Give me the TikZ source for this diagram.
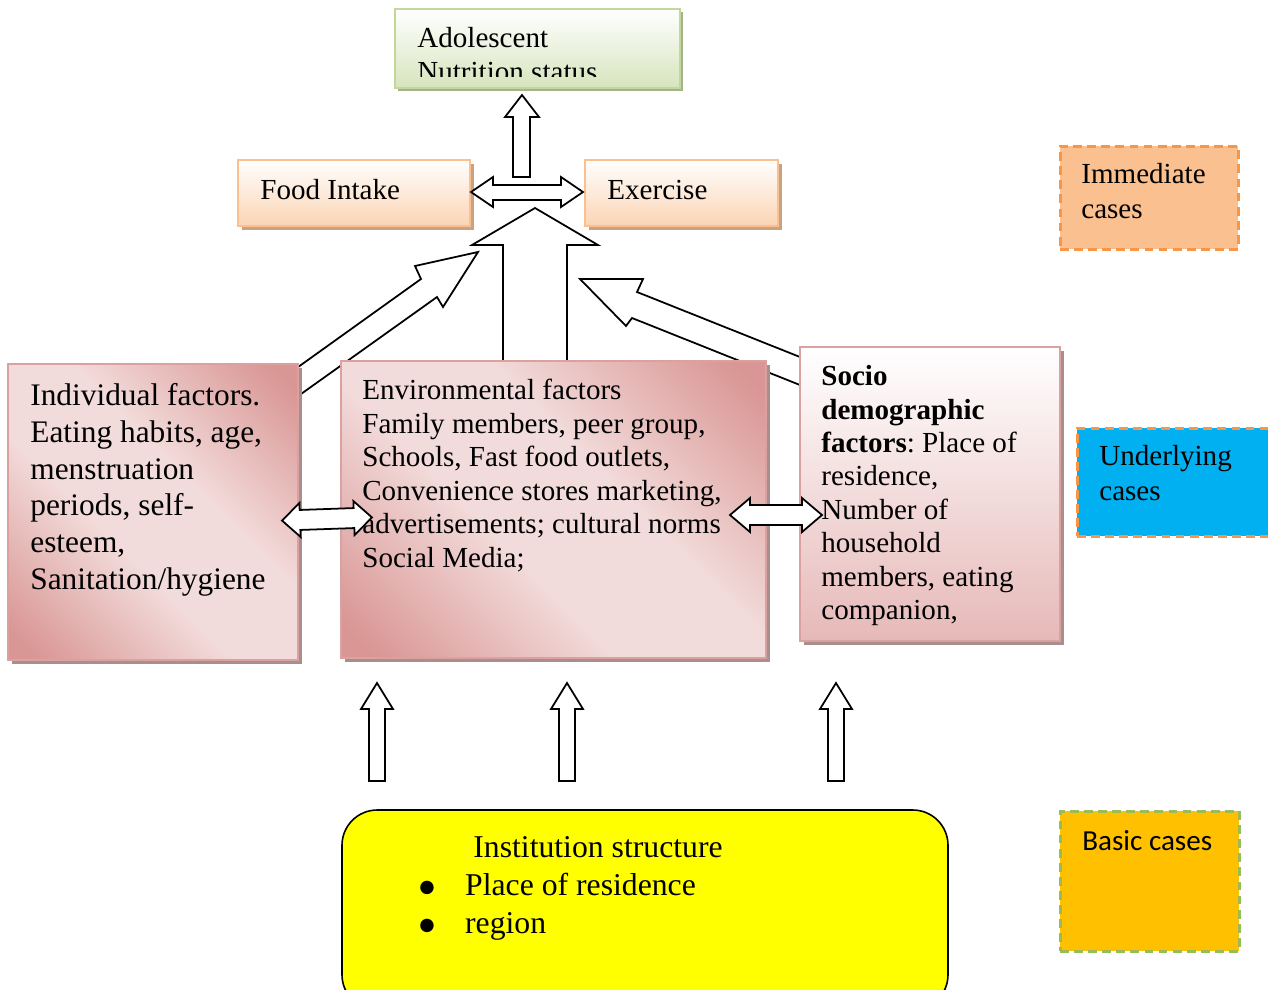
\documentclass[tikz,border=0pt]{standalone}
\usepackage{fontspec}
\setmainfont{Liberation Serif}
\newfontfamily\legendfont{Carlito}
\newfontfamily\symfont{DejaVu Sans}
\usetikzlibrary{fit,shadows}
\frenchspacing

\definecolor{greenedge}{HTML}{C3D69B}
\definecolor{greenfill}{HTML}{D7E4BD}
\definecolor{greenshadow}{HTML}{A3B38D}
\definecolor{peachedge}{HTML}{FAC090}
\definecolor{peachfill}{HTML}{FBD4B4}
\definecolor{peachshadow}{HTML}{C9A27F}
\definecolor{pinkdark}{HTML}{D99694}
\definecolor{pinklight}{HTML}{F2DCDB}
\definecolor{pinkedge}{HTML}{DBA0A0}
\definecolor{pinkshadow}{HTML}{A98E8E}
\definecolor{sociofill}{HTML}{E6B9B8}
\definecolor{orangedash}{HTML}{F79646}
\definecolor{greendash}{HTML}{9BBB59}
\definecolor{immfill}{HTML}{FAC090}
\definecolor{undfill}{HTML}{00B0F0}
\definecolor{basfill}{HTML}{FFC000}
\definecolor{instfill}{HTML}{FFFF00}

\pgfdeclarehorizontalshading{pinkdiag}{100bp}{color(0bp)=(pinkdark); color(18bp)=(pinkdark); color(42bp)=(pinklight); color(58bp)=(pinklight); color(82bp)=(pinkdark); color(100bp)=(pinkdark)}

\newcommand\bigbullet{\raisebox{1.5pt}{\symfont\fontsize{10}{10}\selectfont ●}}

\tikzset{
  fitbox/.style={inner sep=0pt, line width=1.2pt},
  statusbox/.style={fitbox, draw=greenedge, top color=white, bottom color=greenfill,
    drop shadow={shadow xshift=1.7pt, shadow yshift=-1.7pt, fill=greenshadow, opacity=1}},
  peachbox/.style={fitbox, draw=peachedge, top color=white, bottom color=peachfill,
    drop shadow={shadow xshift=2.2pt, shadow yshift=-2.2pt, fill=peachshadow, opacity=1}},
  pinkbox/.style={fitbox, draw=pinkedge, shading=pinkdiag, shading angle=45,
    drop shadow={shadow xshift=2.3pt, shadow yshift=-2.3pt, fill=pinkshadow, opacity=1}},
  sociobox/.style={fitbox, draw=pinkedge, top color=white, bottom color=sociofill,
    drop shadow={shadow xshift=2.3pt, shadow yshift=-2.3pt, fill=pinkshadow, opacity=1}},
  legendbox/.style={inner sep=0pt, line width=1.7pt, dash pattern=on 5pt off 3pt},
  instbox/.style={inner sep=0pt, draw=black, line width=0.9pt, fill=instfill, rounded corners=20pt},
  blockarrow/.style={draw=black, fill=white, line width=1pt, line join=miter},
  txt/.style={inner sep=0pt, align=left, anchor=north west, font=\fontsize{16.5}{19}\selectfont}
}

\begin{document}
\begin{tikzpicture}[x=0.5675pt,y=-0.5675pt]
\useasboundingbox (0,0) rectangle (1268,989);

\draw[blockarrow] (280,380)--(421,279)--(415,266)--(478,252)--(443,307)--(437,297)--(280,409)--cycle;
\draw[blockarrow] (810,361)--(637,292)--(643,279)--(580,279)--(626,326)--(632,318)--(810,389)--cycle;
\draw[blockarrow] (503,370)--(503,245)--(472,245)--(535,208)--(598,245)--(567,245)--(567,370)--cycle;

\node[statusbox, fit={(395,9) (680,88)}] (status) {};
\node[peachbox, fit={(238,160) (470,226)}] (food) {};
\node[peachbox, fit={(585,160) (778,226)}] (exercise) {};
\node[pinkbox, fit={(8,364) (298,660)}] (indiv) {};
\node[pinkbox, fit={(341,361) (766,658)}] (envir) {};
\node[sociobox, fit={(800,347) (1060,641)}] (socio) {};
\node[legendbox, draw=orangedash, fill=immfill, fit={(1060,146) (1238,249)}] (immediate) {};
\node[legendbox, draw=orangedash, fill=undfill, fit={(1077,428) (1295,536)}] (underlying) {};
\node[legendbox, draw=greendash, fill=basfill, fit={(1060,811) (1239,951)}] (basic) {};
\node[instbox, fit={(342,810) (948,1010)}] (inst) {};

\begin{scope}
\clip (status.north west) rectangle (680,76);
\node[txt, font=\fontsize{16.5}{19.3}\selectfont] (statustxt) at (417,27) {Adolescent\\Nutrition status};
\end{scope}
\node[txt, anchor=base west] (foodtxt) at (260,199) {Food Intake};
\node[txt, anchor=base west] (exercisetxt) at (607,199) {Exercise};
\node[txt, font=\fontsize{16.5}{19.9}\selectfont] (immtxt) at (1081,163) {Immediate\\cases};
\node[txt, font=\fontsize{16.5}{19.9}\selectfont] (undtxt) at (1099,445) {Underlying\\cases};
\node[txt, anchor=base west, font=\legendfont\fontsize{16.5}{19}\selectfont] (bastxt) at (1082,850) {Basic cases};
\node[txt, font=\fontsize{17.8}{20.9}\selectfont] (indivtxt) at (30,383) {Individual factors.\\Eating habits, age,\\menstruation\\periods, self-\\esteem,\\Sanitation/hygiene};
\node[txt] (envirtxt) at (362,379) {Environmental factors\\Family members, peer group,\\Schools, Fast food outlets,\\Convenience stores marketing,\\advertisements; cultural norms\\Social Media;};
\node[txt, font=\fontsize{16.5}{19}\selectfont] (sociotxt) at (821,365) {\textbf{Socio}\\\textbf{demographic}\\\textbf{factors}: Place of\\residence,\\Number of\\household\\members, eating\\companion,};
\node[txt, anchor=base west, font=\fontsize{18}{21}\selectfont] (insttxt) at (473,857) {Institution structure};
\node[txt, anchor=base west, font=\fontsize{18}{21}\selectfont] (instone) at (419,895) {\makebox[26pt][l]{\bigbullet}Place of residence};
\node[txt, anchor=base west, font=\fontsize{18}{21}\selectfont] (insttwo) at (419,933) {\makebox[26pt][l]{\bigbullet}region};

\draw[blockarrow] (513,177)--(513,117)--(505,117)--(522,95)--(539,117)--(530,117)--(530,177)--cycle;
\draw[blockarrow] (471,192)--(493,177)--(493,185)--(561,185)--(561,177)--(583,192)--(561,207)--(561,200)--(493,200)--(493,207)--cycle;
\begin{scope}[rotate around={2:(327,519)}]
\draw[blockarrow] (282,519)--(300,502)--(300,509)--(354,509)--(354,502)--(372,519)--(354,536)--(354,529)--(300,529)--(300,536)--cycle;
\end{scope}
\draw[blockarrow] (730,515)--(750,498)--(750,505)--(802,505)--(802,498)--(822,515)--(802,532)--(802,525)--(750,525)--(750,532)--cycle;
\foreach \ax in {377,567,836}
  \draw[blockarrow] (\ax-8,781)--(\ax-8,709)--(\ax-16,709)--(\ax,683)--(\ax+16,709)--(\ax+8,709)--(\ax+8,781)--cycle;
\end{tikzpicture}
\end{document}
